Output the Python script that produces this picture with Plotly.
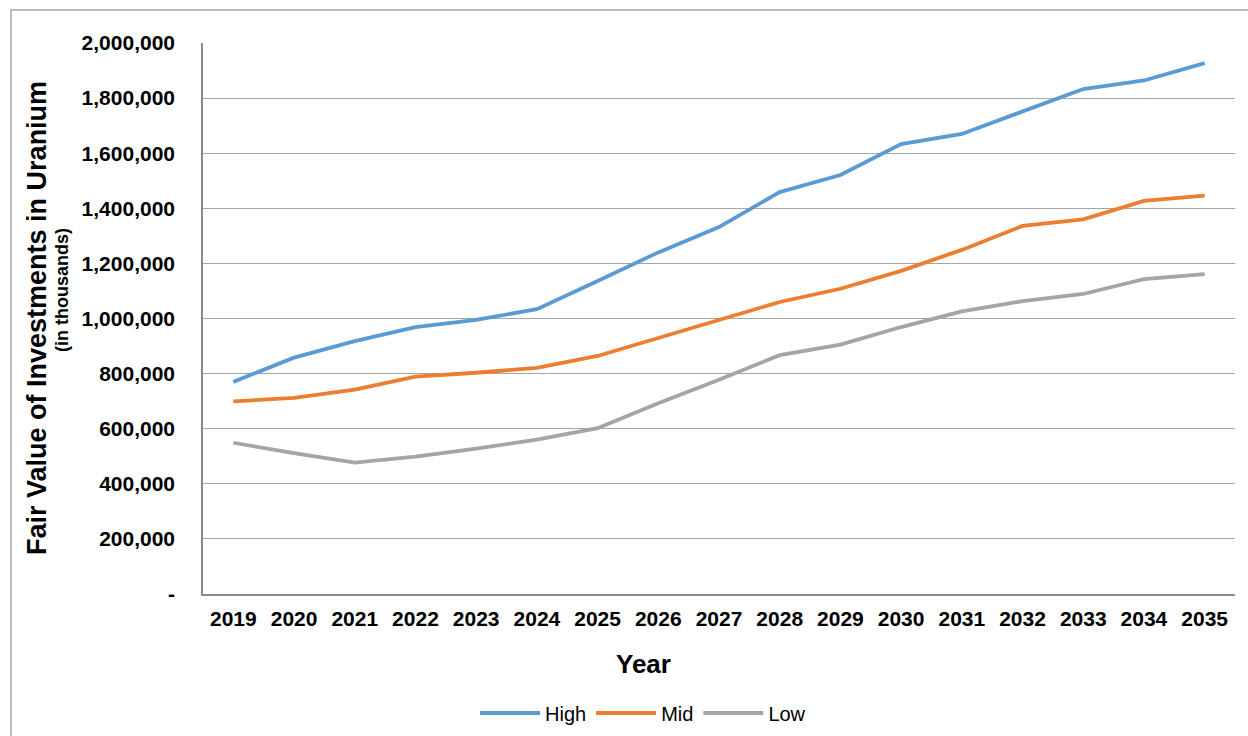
import plotly.graph_objects as go

years = [str(y) for y in range(2019, 2036)]
high = [770000, 858000, 918000, 969000, 995000, 1034000, 1136000, 1240000, 1332000,
        1459000, 1521000, 1633000, 1670000, 1750000, 1833000, 1864000, 1927000]
mid = [699000, 712000, 742000, 789000, 803000, 821000, 864000, 929000, 993000,
       1060000, 1108000, 1173000, 1249000, 1336000, 1360000, 1427000, 1446000]
low = [549000, 511000, 477000, 499000, 528000, 560000, 602000, 692000, 778000,
       867000, 905000, 969000, 1026000, 1063000, 1089000, 1143000, 1161000]
ytick_vals = [0, 200000, 400000, 600000, 800000, 1000000, 1200000, 1400000,
              1600000, 1800000, 2000000]
ytick_text = ["-", "200,000", "400,000", "600,000", "800,000", "1,000,000",
              "1,200,000", "1,400,000", "1,600,000", "1,800,000", "2,000,000"]

FONT = "Liberation Sans, Arial, sans-serif"
W, H = 1248, 736
L, R, T, B = 203, 13, 43, 142
pw, ph = W - L - R, H - T - B

def px(x):
    return (x - L) / pw

def py(y):
    return (H - B - y) / ph

fig = go.Figure()
for name, vals, color in [("High", high, "#5B9BD5"), ("Mid", mid, "#ED7D31"),
                          ("Low", low, "#A5A5A5")]:
    fig.add_trace(go.Scatter(x=years, y=vals, name=name, mode="lines",
                             line=dict(color=color, width=3.8)))

fig.update_layout(
    width=W, height=H,
    margin=dict(l=L, r=R, t=T, b=B, pad=0, autoexpand=False),
    paper_bgcolor="white", plot_bgcolor="white",
    font=dict(family=FONT, color="black"),
    showlegend=True,
    legend=dict(orientation="h", x=px(643), xanchor="center", y=py(713),
                yanchor="middle", font=dict(size=20, family=FONT),
                bgcolor="rgba(0,0,0,0)", itemwidth=60),
    xaxis=dict(type="category", range=[-0.5, 16.5], showgrid=False,
               showline=True, linecolor="#8c8c8c", linewidth=1.5,
               ticks="", tickfont=dict(size=21, family=FONT, weight="bold"),
               ticklabelstandoff=5, zeroline=False, automargin=False),
    yaxis=dict(range=[0, 2000000], tickvals=ytick_vals, ticktext=ytick_text,
               showgrid=True, gridcolor="#a6a6a6", gridwidth=1,
               showline=True, linecolor="#8c8c8c", linewidth=1.5,
               zeroline=False, ticks="", automargin=False,
               tickfont=dict(size=21, family=FONT, weight="bold"),
               ticklabelstandoff=22),
    annotations=[
        dict(text="<b>Fair Value of Investments in Uranium</b>", textangle=-90,
             xref="paper", yref="paper", x=px(37), y=py(318),
             xanchor="center", yanchor="middle", showarrow=False,
             font=dict(size=27, family=FONT)),
        dict(text="<b>(in thousands)</b>", textangle=-90,
             xref="paper", yref="paper", x=px(62), y=py(290),
             xanchor="center", yanchor="middle", showarrow=False,
             font=dict(size=18, family=FONT)),
        dict(text="<b>Year</b>", xref="paper", yref="paper", x=px(643), y=py(664),
             xanchor="center", yanchor="middle", showarrow=False,
             font=dict(size=26, family=FONT)),
    ],
    shapes=[
        dict(type="rect", xref="paper", yref="paper", x0=px(11), y0=py(780),
             x1=px(1270), y1=py(10), line=dict(color="#a6a6a6", width=1.5),
             fillcolor="rgba(0,0,0,0)", layer="below"),
    ],
)

fig.write_html("out.html")
